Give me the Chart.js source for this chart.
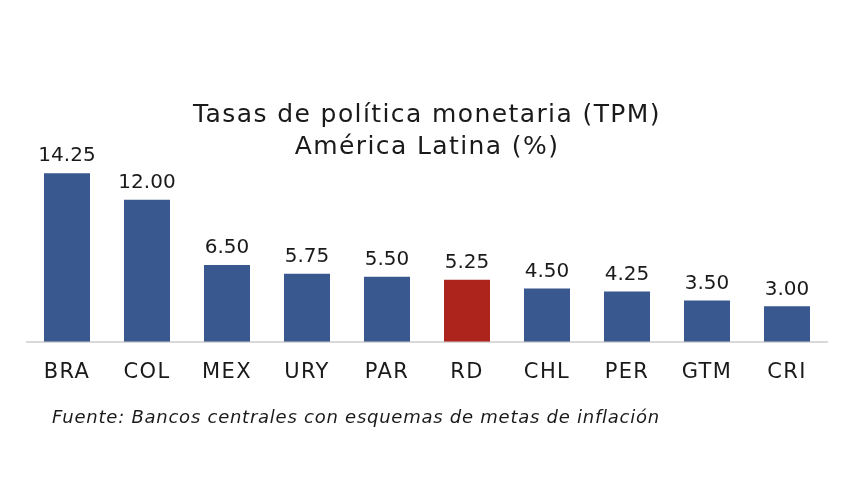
<!DOCTYPE html>
<html>
<head>
<meta charset="utf-8">
<script src="https://cdn.jsdelivr.net/npm/chart.js@4"></script>
<style>
  html, body { margin: 0; padding: 0; background: #fff; }
  #wrap { position: relative; width: 850px; height: 491px; }
  #fuente {
    position: absolute; left: 52px; top: 406px;
    font-family: "DejaVu Sans", sans-serif; font-style: italic;
    font-size: 18px; letter-spacing: 0.75px; color: #1a1a1a;
  }
</style>
</head>
<body>
<div id="wrap">
  <canvas id="tpm" width="850" height="491"></canvas>
  <div id="fuente">Fuente: Bancos centrales con esquemas de metas de inflación</div>
</div>
<script>
// datos
const paises = ['BRA', 'COL', 'MEX', 'URY', 'PAR', 'RD', 'CHL', 'PER', 'GTM', 'CRI'];
const tasas = [14.25, 12.00, 6.50, 5.75, 5.50, 5.25, 4.50, 4.25, 3.50, 3.00];
const titulo = ['Tasas de política monetaria (TPM)', 'América Latina (%)'];

const AZUL = '#38588f';
const ROJO = '#ad241d';
const FUENTE = '"DejaVu Sans", sans-serif';

// RD va en rojo, el resto en azul
const colores = paises.map(p => p === 'RD' ? ROJO : AZUL);

// la fuente original es más ancha: algo de espacio entre letras
// para título y ejes, y se quita antes de dibujar las barras
const espaciado = {
    id: 'espaciado',
    beforeDraw(chart) { chart.ctx.letterSpacing = '1.4px'; },
    beforeDatasetsDraw(chart) { chart.ctx.letterSpacing = '0px'; }
};

// plugin sencillo para poner el valor encima de cada barra
const etiquetas = {
    id: 'etiquetas',
    afterDatasetsDraw(chart) {
        const ctx = chart.ctx;
        const meta = chart.getDatasetMeta(0);
        ctx.save();
        ctx.font = '20px ' + FUENTE;
        ctx.fillStyle = '#1a1a1a';
        ctx.textAlign = 'center';
        ctx.textBaseline = 'middle';
        meta.data.forEach((bar, i) => {
            ctx.fillText(tasas[i].toFixed(2), bar.x, bar.y - 17);
        });
        ctx.restore();
    }
};

new Chart(document.getElementById('tpm'), {
    type: 'bar',
    data: {
        labels: paises,
        datasets: [{
            data: tasas,
            backgroundColor: colores,
            categoryPercentage: 1,
            barPercentage: 0.575
        }]
    },
    options: {
        responsive: false,
        animation: false,
        layout: { padding: { left: 27, right: 23, top: 0, bottom: 88 } },
        plugins: {
            legend: { display: false },
            tooltip: { enabled: false },
            title: {
                display: true,
                text: titulo,
                color: '#1a1a1a',
                font: { family: FUENTE, size: 25, weight: 'normal', lineHeight: 1.3 },
                padding: { top: 99, bottom: 0 }
            }
        },
        scales: {
            x: {
                grid: { display: false, drawTicks: false },
                border: { color: '#d9d9d9', width: 2 },
                ticks: { color: '#1a1a1a', font: { family: FUENTE, size: 21 }, padding: 18 }
            },
            y: {
                display: false,
                min: 0,
                max: 15.03
            }
        }
    },
    plugins: [espaciado, etiquetas]
});
</script>
</body>
</html>
